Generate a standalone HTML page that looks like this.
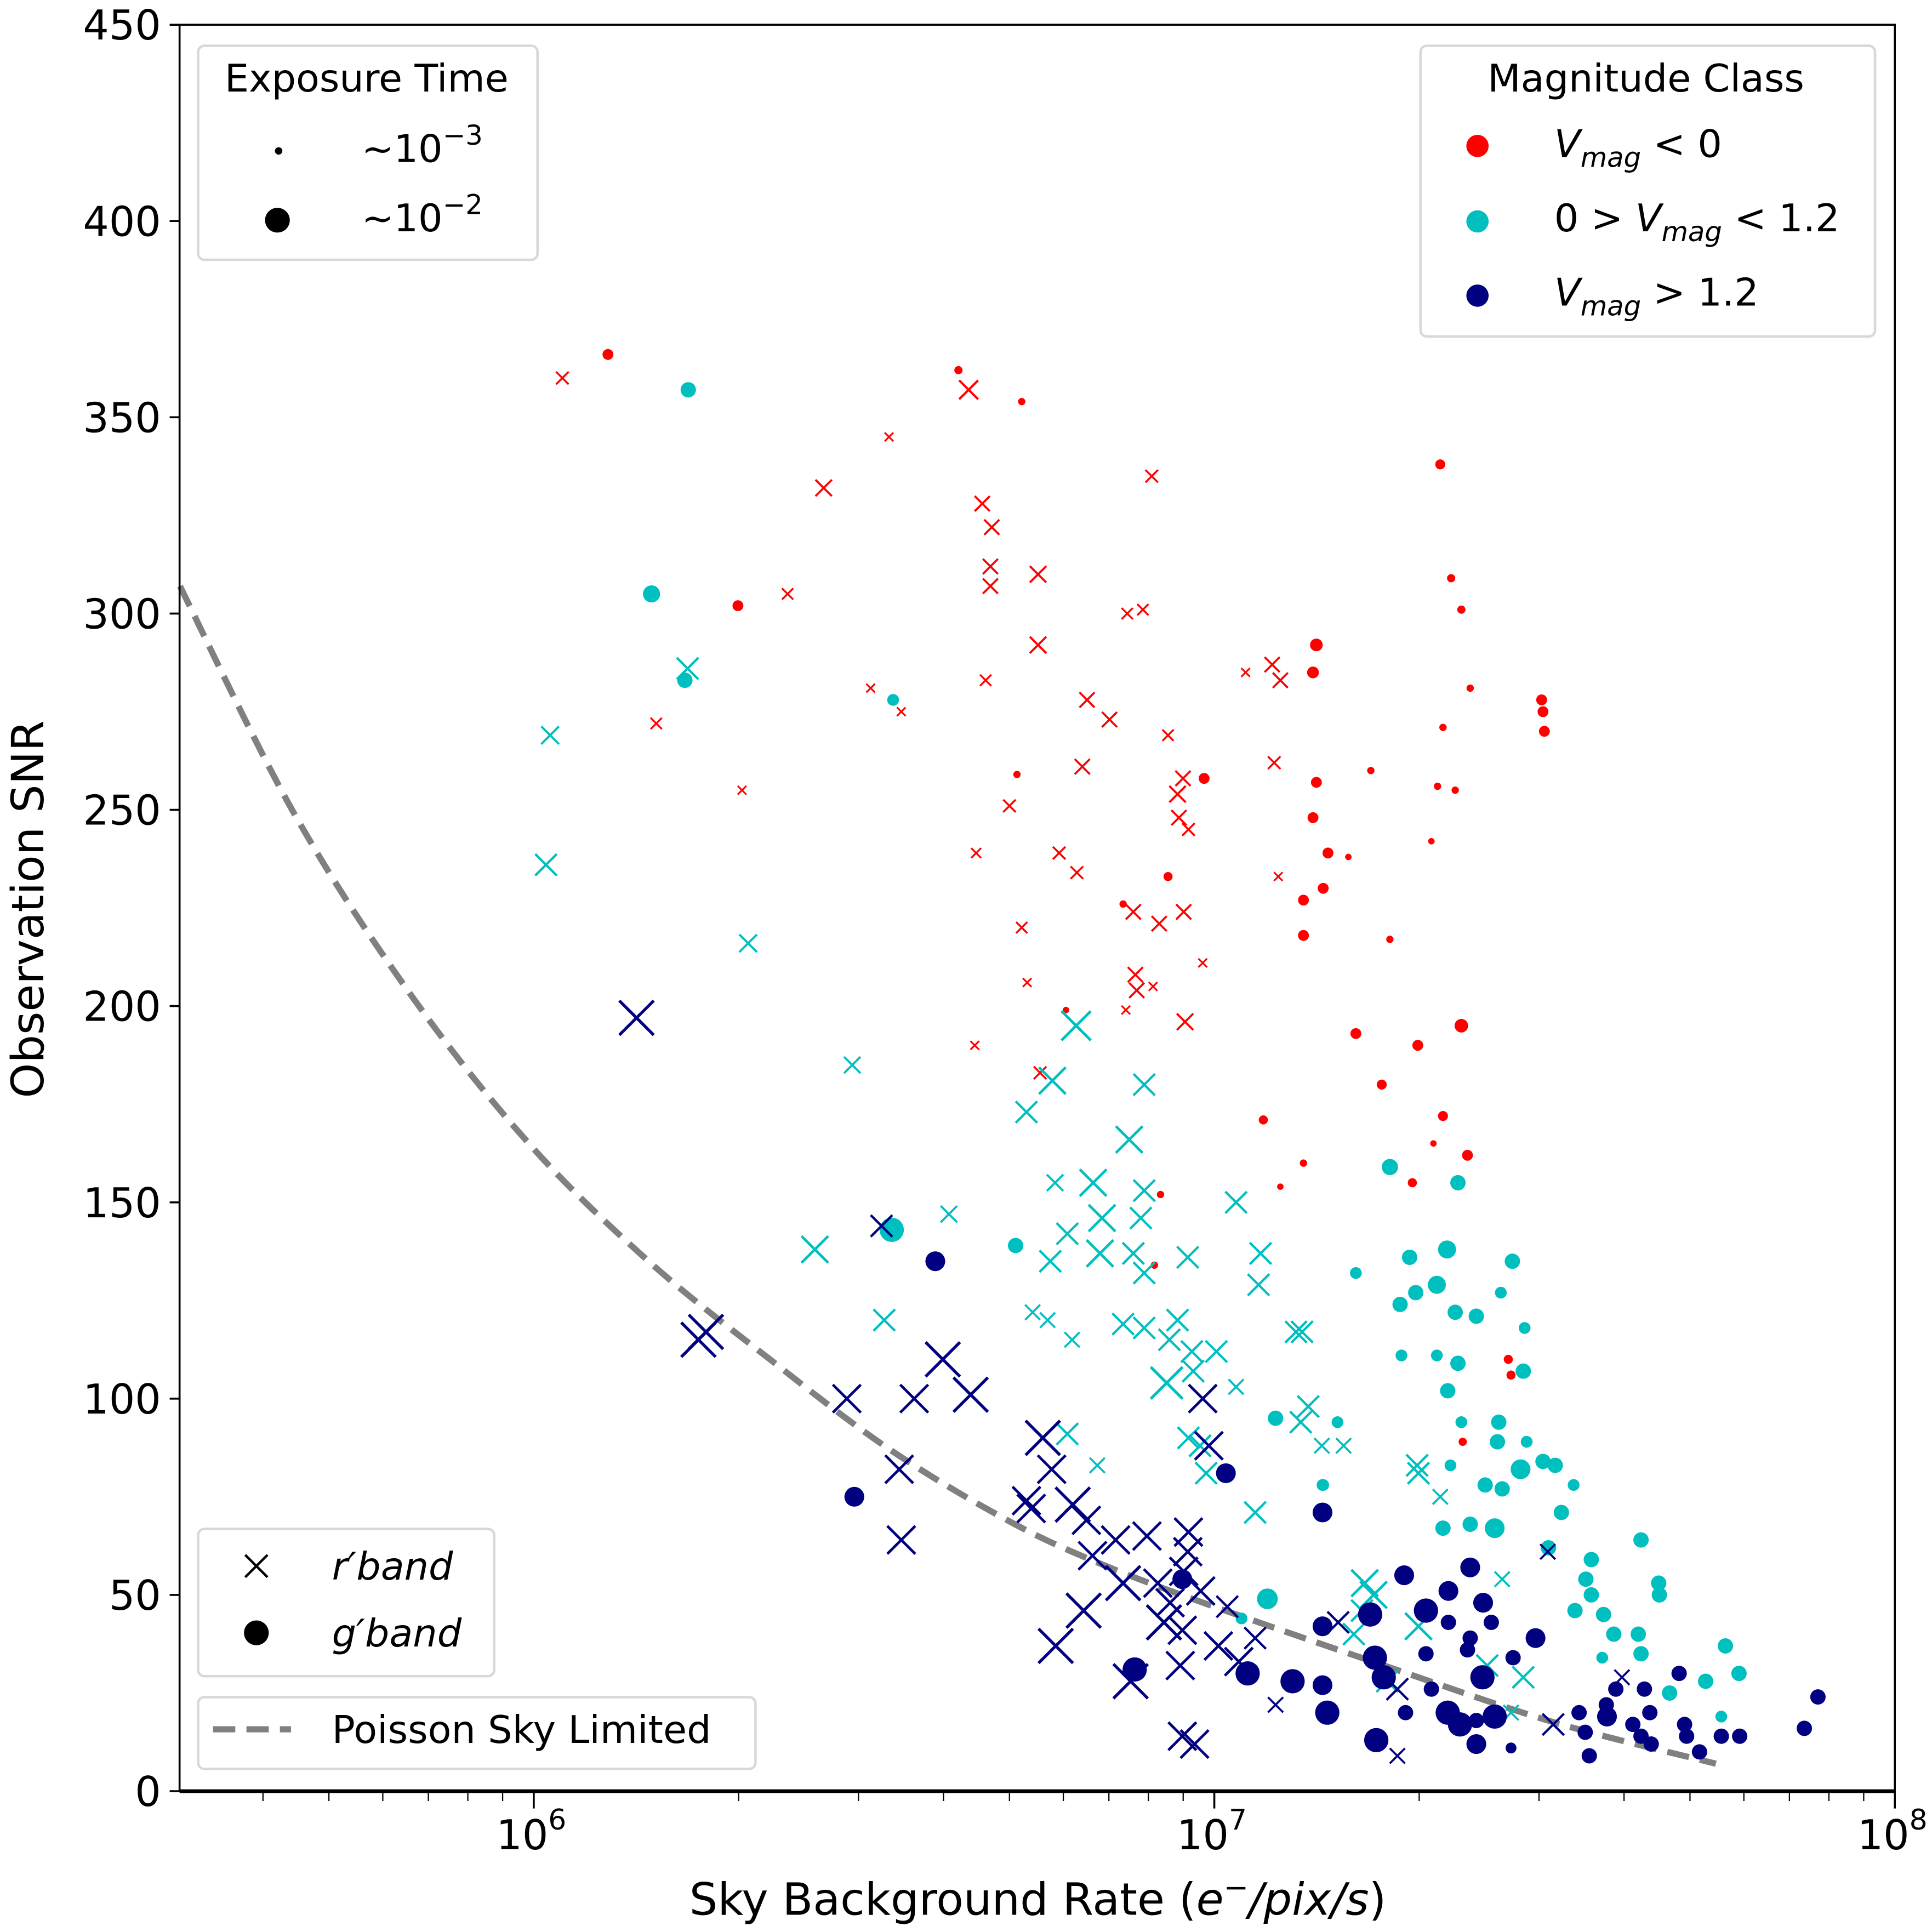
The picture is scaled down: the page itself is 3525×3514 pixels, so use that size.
<!DOCTYPE html>
<html><head><meta charset="utf-8"><style>
html,body{margin:0;padding:0;background:#fff}
svg{display:block}
text{font-family:"DejaVu Sans","Liberation Sans",sans-serif;fill:#000}
</style></head><body>
<svg id="chart" width="3525" height="3514" viewBox="0 0 1560 1557" preserveAspectRatio="none" xmlns="http://www.w3.org/2000/svg">
<g id="marks"></g>
<g id="axes"></g>
<g>
<rect x="160" y="37" width="274" height="173" rx="5" fill="#fff" stroke="#d8d8d8" stroke-width="2"/>
<text x="296" y="74" font-size="31" text-anchor="middle">Exposure Time</text>
<circle cx="225" cy="122" r="3" fill="#000"/>
<text x="292" y="131" font-size="31">~10<tspan dy="-14" font-size="22">−3</tspan></text>
<circle cx="224" cy="178" r="10" fill="#000"/>
<text x="292" y="187" font-size="31">~10<tspan dy="-14" font-size="22">−2</tspan></text>
</g>
<g>
<rect x="1147" y="37" width="367" height="235" rx="5" fill="#fff" stroke="#d8d8d8" stroke-width="2"/>
<text x="1329" y="74" font-size="31" text-anchor="middle">Magnitude Class</text>
<circle cx="1193" cy="118" r="9" fill="#ff0000"/>
<text x="1255" y="127" font-size="31"><tspan font-style="italic">V</tspan><tspan font-style="italic" font-size="22" dy="8">mag</tspan><tspan dy="-8"> &lt; 0</tspan></text>
<circle cx="1193" cy="179" r="9" fill="#00bfbf"/>
<text x="1255" y="187" font-size="31">0 &gt; <tspan font-style="italic">V</tspan><tspan font-style="italic" font-size="22" dy="8">mag</tspan><tspan dy="-8"> &lt; 1.2</tspan></text>
<circle cx="1193" cy="239" r="9" fill="#000080"/>
<text x="1255" y="247" font-size="31"><tspan font-style="italic">V</tspan><tspan font-style="italic" font-size="22" dy="8">mag</tspan><tspan dy="-8"> &gt; 1.2</tspan></text>
</g>
<g>
<rect x="160" y="1236" width="239" height="119" rx="5" fill="#fff" stroke="#d8d8d8" stroke-width="2"/>
<path d="M198 1257 L216 1275 M216 1257 L198 1275" stroke="#000" stroke-width="2"/>
<text x="268" y="1277" font-size="31" font-style="italic">r′band</text>
<circle cx="207" cy="1320" r="10" fill="#000"/>
<text x="268" y="1331" font-size="31" font-style="italic">g′band</text>
</g>
<g>
<rect x="160" y="1372" width="450" height="58" rx="5" fill="#fff" stroke="#d8d8d8" stroke-width="2"/>
<line x1="172" y1="1398" x2="235" y2="1398" stroke="#808080" stroke-width="5" stroke-dasharray="18,9"/>
<text x="268" y="1409" font-size="31">Poisson Sky Limited</text>
</g>
</svg>
<script>
// ---- data (x stored as log10 of sky background rate) ----
const redRSky=[6.042,6.639,6.522,6.426,6.908,6.659,6.673,6.671,6.671,6.741,6.373,6.872,6.895,6.741,6.495,6.540,6.664,6.180,7.046,7.085,7.097,6.813,6.846,6.932,6.806,7.088,6.306,6.954,6.946,6.699,6.948,6.962,6.650,6.772,6.798,7.094,6.881,6.919,6.955,6.717,6.725,6.983,6.884,6.886,6.910,6.870,6.957,6.648,6.744];
const redRSnr=[360,357,345,332,335,328,322,312,307,310,305,300,301,292,281,275,283,272,285,287,283,278,273,269,261,262,255,258,254,251,248,245,239,239,234,233,224,221,224,220,206,211,208,204,205,199,196,190,183];
const redRExp=[1.3,1.8,1,1.6,1.3,1.5,1.5,1.5,1.5,1.6,1.2,1.2,1.2,1.6,1,1,1.2,1.2,1,1.5,1.5,1.5,1.5,1.2,1.5,1.3,1,1.5,1.6,1.3,1.5,1.3,1.1,1.3,1.3,1,1.5,1.5,1.5,1.2,1,1,1.5,1.5,1,1,1.6,1,1.3];
const redGSky=[6.109,6.624,6.717,6.300,7.150,7.332,7.348,7.363,7.145,7.376,7.481,7.483,7.485,7.336,6.710,6.985,7.150,7.230,7.328,7.354,7.145,7.167,7.197,7.319,7.160,6.932,6.866,7.131,7.131,7.258,6.782,7.363,7.208,7.299,7.246,7.072,7.336,7.372,7.131,7.291,7.322,6.921,7.097,6.912,7.432,7.436,7.365];
const redGSnr=[366,362,354,302,292,338,309,301,285,281,278,275,270,271,259,258,257,260,256,255,248,239,238,242,230,233,226,227,218,217,199,195,193,190,180,171,172,162,160,155,165,152,154,134,110,106,89];
const redGExp=[1.5,1.2,1.1,1.5,1.7,1.4,1.2,1.2,1.6,1.1,1.5,1.5,1.5,1.1,1.1,1.5,1.5,1.1,1.1,1.1,1.5,1.5,1,1,1.5,1.3,1.1,1.5,1.5,1.1,1,1.8,1.5,1.5,1.4,1.3,1.4,1.5,1.1,1.3,1,1.1,1,1.1,1.3,1.3,1.2];
const cyanRSky=[6.226,6.024,6.018,6.315,6.468,6.797,6.762,6.724,6.897,6.875,6.766,6.822,6.897,7.032,6.784,6.835,6.892,6.610,6.413,6.759,6.832,6.881,6.961,7.068,6.897,7.065,6.515,6.733,6.755,6.791,6.866,6.946,6.897,6.934,6.967,7.003,7.120,7.129,6.930,6.969,7.032,7.138,7.127,6.784,6.962,6.979,7.158,7.190,7.298,7.300,6.828,6.988,7.332,7.060,7.423,7.221,7.234,7.217,7.300,7.205,7.254,7.454,7.436,7.401];
const cyanRSnr=[286,269,236,216,185,195,181,173,180,166,155,155,153,150,142,146,146,147,138,135,137,137,136,137,132,129,120,122,120,115,119,120,118,115,112,112,117,117,104,107,103,98,94,91,90,88,88,88,83,81,83,81,75,71,54,53,50,46,42,40,28,29,20,32];
const cyanRExp=[2,1.7,2,1.7,1.6,2.6,2.4,2,2,2.4,1.6,2.4,2,2,2,2.4,2,1.6,2.4,2,2.4,2,2,2,2,2,2,1.5,1.5,1.5,2,2,2,2,2,2,2,2,2.8,2,1.5,2,2,2,2,2,1.5,1.5,2,2,1.5,2,1.5,2,1.5,2.4,2.4,2,2.4,2,2,2,1.5,2];
const cyanGSky=[6.227,6.173,6.222,6.528,7.258,7.358,6.526,6.708,7.287,7.342,7.438,7.208,7.296,7.327,7.421,7.273,7.354,7.385,7.456,7.275,7.327,7.358,7.454,7.343,7.090,7.181,7.363,7.418,7.416,7.459,7.347,7.483,7.501,7.450,7.528,7.423,7.398,7.160,7.510,7.336,7.376,7.412,7.491,7.627,7.554,7.546,7.653,7.654,7.554,7.530,7.572,7.078,7.040,7.587,7.623,7.570,7.627,7.751,7.669,7.722,7.771,7.745,7.159];
const cyanGSnr=[357,305,283,278,159,155,143,139,136,138,135,132,127,129,127,124,122,121,118,111,111,109,107,102,95,94,94,94,89,89,83,84,83,82,78,77,78,78,71,67,68,67,62,64,59,54,53,50,50,46,45,49,44,40,40,34,35,37,25,28,30,19,78];
const cyanGExp=[2,2.2,2,1.6,2.1,2,3,2,2,2.3,2,1.6,2,2.3,1.6,2,2,2,1.6,1.6,1.6,2,2,2,2,1.6,1.6,2,2,1.6,1.6,2,2,2.5,1.6,2,2,1.6,2,2,2,2.5,2,2,2,2,2,2,2,2,2,2.6,1.6,2,2,1.6,2,2,2,2,2,1.6,1.6];
const navyRSky=[6.151,6.511,6.253,6.242,6.601,6.642,6.460,6.559,6.983,6.992,6.537,6.748,6.761,6.724,6.731,6.792,6.812,6.540,6.855,6.901,6.962,6.961,6.821,6.955,6.866,6.917,6.980,6.935,7.019,6.808,6.926,6.953,6.767,7.006,7.060,7.036,6.950,6.877,7.090,6.953,6.971,7.490,7.182,7.269,7.498,7.599,7.269];
const navyRSnr=[197,144,117,115,110,101,100,100,100,88,82,90,82,74,72,73,69,64,64,65,66,61,60,56,53,53,51,48,47,46,43,41,37,37,39,33,32,28,22,14,12,61,43,26,17,29,9];
const navyRExp=[3,2,3,3,3,3,2.5,2.5,2.5,2.5,2.5,3,2.5,2.5,2.5,3,2.5,2.5,2.5,2.5,2.5,2.5,2.5,2.5,3,2.5,2.5,2.5,2,3,3,2.5,3,2.5,2,2.5,2.5,3,1.5,2.5,2.5,1.5,2,2,2,1.5,1.5];
const navyGSky=[6.590,7.017,6.471,7.159,6.953,6.883,7.049,7.115,7.166,7.159,7.279,7.376,7.311,7.229,7.159,7.344,7.395,7.344,7.376,7.407,7.472,7.311,7.372,7.439,7.236,7.249,7.319,7.394,7.343,7.361,7.385,7.412,7.385,7.238,7.281,7.436,7.536,7.576,7.577,7.590,7.545,7.551,7.632,7.640,7.615,7.627,7.683,7.642,7.691,7.694,7.713,7.745,7.772,7.867,7.887];
const navyGSnr=[135,81,75,71,54,31,30,28,20,27,55,57,46,45,42,51,48,43,39,43,39,35,36,34,34,29,26,29,20,17,18,19,12,13,20,11,20,22,19,26,15,9,26,20,17,14,30,12,17,14,10,14,14,16,24];
const navyGExp=[2.5,2.5,2.5,2.5,2.5,3,3,3,3,2.5,2.5,2.5,3,3,2.5,2.5,2.5,2,2,2,2.5,2,2,2,3,3,2,3,3,3,2,3,2.5,3,2,1.5,2,2,2.5,2,2,2,2,2,2,2,2,2,2,2,2,2,2,2,2];
const curveSky=[5.48,5.648,5.823,5.998,6.172,6.347,6.521,6.696,6.836,7.0,7.25,7.5,7.737];
const curveSnr=[307,249,202,164,134.5,110,87.3,69,57.7,47,32,17.5,7];
const yTicks=[0,50,100,150,200,250,300,350,400,450];
const xMajor=[6,7,8];

// ---- axes functions ----
const L=145,R=1530,T=20,B=1448;
const xMinLog=6-(431-L)/549.5, xMaxLog=8;
const sx=v=>L+(v-xMinLog)/(xMaxLog-xMinLog)*(R-L);
const sy=v=>B-v/450*(B-T);
const NS='http://www.w3.org/2000/svg';
function mk(tag,attrs,parent){const e=document.createElementNS(NS,tag);for(const k in attrs)e.setAttribute(k,attrs[k]);parent.appendChild(e);return e;}
const marks=document.getElementById('marks'),axes=document.getElementById('axes');

const cp=curveSky.map((v,i)=>[sx(v),sy(curveSnr[i])]);
let d='M'+cp[0][0].toFixed(1)+' '+cp[0][1].toFixed(1);
for(let i=0;i<cp.length-1;i++){const p0=cp[Math.max(i-1,0)],p1=cp[i],p2=cp[i+1],p3=cp[Math.min(i+2,cp.length-1)];
const c1=[p1[0]+(p2[0]-p0[0])/6,p1[1]+(p2[1]-p0[1])/6],c2=[p2[0]-(p3[0]-p1[0])/6,p2[1]-(p3[1]-p1[1])/6];
d+=`C${c1[0].toFixed(1)} ${c1[1].toFixed(1)} ${c2[0].toFixed(1)} ${c2[1].toFixed(1)} ${p2[0].toFixed(1)} ${p2[1].toFixed(1)}`;}
const curve=mk('path',{d:d,fill:'none',stroke:'#808080','stroke-width':5,'stroke-dasharray':'18,9'},marks);



function drawX(sky,snr,exp,color,name){sky.forEach((v,i)=>{const cx=sx(v),cy=sy(snr[i]),h=3.5+(exp[i]-1)*5.2,w=1.4+(exp[i]-1)*0.5;
const p=mk('path',{d:`M${cx-h} ${cy-h}L${cx+h} ${cy+h}M${cx+h} ${cy-h}L${cx-h} ${cy+h}`,stroke:color,'stroke-width':w,fill:'none'},marks);

});}
function drawO(sky,snr,exp,color,name){sky.forEach((v,i)=>{const r=2.6+(exp[i]-1)*3.6;
const c=mk('circle',{cx:sx(v),cy:sy(snr[i]),r:r,fill:color},marks);

});}
drawX(redRSky,redRSnr,redRExp,'#ff0000','red-rband-point');
drawO(redGSky,redGSnr,redGExp,'#ff0000','red-gband-point');
drawX(cyanRSky,cyanRSnr,cyanRExp,'#00bfbf','cyan-rband-point');
drawO(cyanGSky,cyanGSnr,cyanGExp,'#00bfbf','cyan-gband-point');
drawX(navyRSky,navyRSnr,navyRExp,'#000080','navy-rband-point');
drawO(navyGSky,navyGSnr,navyGExp,'#000080','navy-gband-point');

const fr=mk('rect',{x:L,y:T,width:R-L,height:B-T,fill:'none',stroke:'#000','stroke-width':1.6},axes);


mk('line',{x1:L,y1:B,x2:R,y2:B,stroke:'#000','stroke-width':3},axes);
yTicks.forEach(t=>{mk('line',{x1:L-8,y1:sy(t),x2:L,y2:sy(t),stroke:'#000','stroke-width':1.6},axes);
const tx=mk('text',{x:L-15,y:sy(t)+12,'font-size':33,'text-anchor':'end'},axes);tx.textContent=t;

});
xMajor.forEach(e=>{const x=sx(e);mk('line',{x1:x,y1:B,x2:x,y2:B+14,stroke:'#000','stroke-width':1.6},axes);
const tx=mk('text',{x:x-2,y:B+47,'font-size':33,'text-anchor':'middle'},axes);tx.innerHTML='10<tspan dy="-16" font-size="23">'+e+'</tspan>';

});
for(let dec=5;dec<8;dec++)for(let m=2;m<10;m++){const lv=dec+Math.log10(m);if(lv<xMinLog||lv>xMaxLog)continue;const x=sx(lv);mk('line',{x1:x,y1:B,x2:x,y2:B+8,stroke:'#000','stroke-width':1},axes);}
const xt=mk('text',{x:838,y:1548,'font-size':36,'text-anchor':'middle'},axes);
xt.innerHTML='Sky Background Rate (<tspan font-style="italic">e</tspan><tspan dy="-14" font-size="24">−</tspan><tspan dy="14" font-style="italic">/pix/s</tspan>)';


const yt=mk('text',{x:0,y:0,'font-size':36,'text-anchor':'middle',transform:'translate(35,735) rotate(-90)'},axes);
yt.textContent='Observation SNR';


</script>
</body></html>
